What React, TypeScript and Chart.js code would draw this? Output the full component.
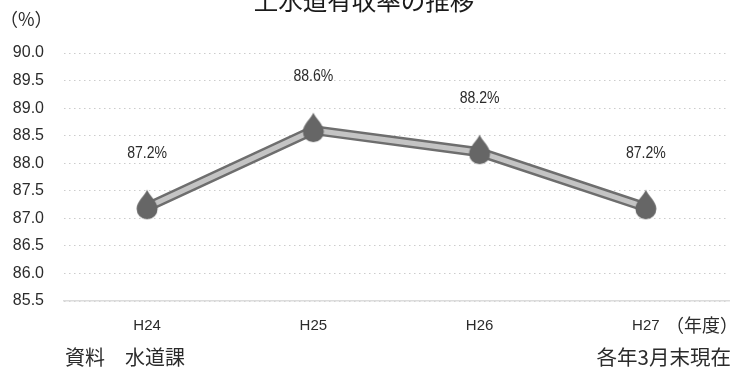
import { useEffect, useRef } from "react";
import { Chart, registerables } from "chart.js";

Chart.register(...registerables);

const categories = ["H24", "H25", "H26", "H27"];
const rates = [87.2, 88.6, 88.2, 87.2];
const yMin = 85.5;
const yMax = 90;
const yStep = 0.5;
const titleText = "上水道有収率の推移";
const yUnit = "（%）";
const xUnit = "（年度）";
const sourceText = "資料　水道課";
const dateText = "各年3月末現在";

const FONT = '"Noto Sans CJK JP", "Noto Sans", sans-serif';
const LATIN = '"Liberation Sans", Arial, sans-serif';
const TEXT = "#2b2b2b";

function makeDrop() {
  const c = document.createElement("canvas");
  c.width = 24;
  c.height = 36;
  const g = c.getContext("2d")!;
  const cx = 12;
  const cy = 19.5;
  const r = 10.5;
  g.fillStyle = "#666666";
  g.beginPath();
  g.moveTo(cx, 0.5);
  g.bezierCurveTo(cx + 2, 6, cx + r, 12, cx + r, cy);
  g.arc(cx, cy, r, 0, Math.PI);
  g.bezierCurveTo(cx - r, 12, cx - 2, 6, cx, 0.5);
  g.closePath();
  g.fill();
  return c;
}

const textPlugin = {
  id: "texts",
  afterDatasetsDraw(chart: any) {
    const g = chart.ctx;
    g.save();
    g.textBaseline = "middle";
    g.fillStyle = "#1a1a1a";
    g.textAlign = "center";
    g.font = `24.5px ${FONT}`;
    g.fillText(titleText, 364, 1);
    g.fillStyle = TEXT;
    g.textAlign = "left";
    g.font = `18px ${FONT}`;
    g.fillText(yUnit, 0, 19);
    g.font = `20px ${FONT}`;
    g.fillText(sourceText, 65, 357);
    g.textAlign = "right";
    g.font = `20.5px ${FONT}`;
    g.fillText(dateText, 731, 357);
    g.font = `18px ${FONT}`;
    g.fillText(xUnit, 738, 325);
    g.textAlign = "center";
    g.font = `16px ${LATIN}`;
    const meta = chart.getDatasetMeta(1);
    meta.data.forEach((pt: any, i: number) => {
      g.save();
      g.translate(pt.x, pt.y - 54);
      g.scale(0.88, 1);
      g.fillText(`${rates[i].toFixed(1)}%`, 0, 0);
      g.restore();
    });
    g.restore();
  },
};

export default function App() {
  const ref = useRef<HTMLCanvasElement>(null);
  useEffect(() => {
    const chart = new Chart(ref.current!, {
      type: "line",
      data: {
        labels: categories,
        datasets: [
          {
            data: rates,
            borderColor: "#6e6e6e",
            borderWidth: 10,
            pointRadius: 0,
            tension: 0,
            order: 3,
          },
          {
            data: rates,
            borderColor: "#c4c4c4",
            borderWidth: 5,
            pointRadius: 0,
            tension: 0,
            order: 2,
          },
          {
            data: rates,
            showLine: false,
            pointStyle: makeDrop() as any,
            pointRadius: 12,
            order: 1,
          },
        ],
      },
      options: {
        animation: false,
        responsive: false,
        layout: { padding: { top: 53, right: 4, bottom: 0, left: 0 } },
        plugins: { legend: { display: false }, tooltip: { enabled: false } },
        scales: {
          x: {
            offset: true,
            grid: { display: false, drawTicks: false },
            border: { color: "#dcdcdc", width: 1.5 },
            ticks: {
              color: TEXT,
              font: { family: LATIN, size: 15 },
              padding: 16,
              maxRotation: 0,
            },
            afterFit(s: any) {
              s.height = 66;
            },
          },
          y: {
            min: yMin,
            max: yMax,
            grid: {
              color: "#cccccc",
              drawTicks: false,
              tickLength: 0,
            },
            border: { display: false, dash: [1.5, 3.5] },
            ticks: {
              stepSize: yStep,
              color: TEXT,
              font: { family: LATIN, size: 16 },
              padding: 20,
              callback: (v: any) => Number(v).toFixed(1),
            },
            afterFit(s: any) {
              s.width = 64;
            },
          },
        },
      },
      plugins: [textPlugin],
    } as any);
    return () => chart.destroy();
  }, []);
  return (
    <div
      style={{
        position: "fixed",
        left: 0,
        top: 0,
        width: 732,
        height: 367,
        overflow: "hidden",
      }}
    >
      <canvas ref={ref} width={742} height={367} style={{ display: "block" }} />
    </div>
  );
}
